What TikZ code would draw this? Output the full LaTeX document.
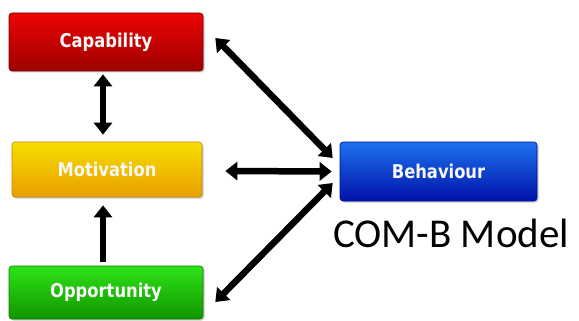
\documentclass[tikz,border=0pt]{standalone}
\usepackage{fontspec}
\usetikzlibrary{arrows.meta,calc,shadows}
\newfontfamily\boxfont[FakeStretch=0.86]{DejaVu Sans}
\newfontfamily\labelfont{Carlito}

\definecolor{redtop}{RGB}{236,4,4}
\definecolor{redbot}{RGB}{158,0,0}
\definecolor{yeltop}{RGB}{246,222,0}
\definecolor{yelbot}{RGB}{232,158,0}
\definecolor{grntop}{RGB}{44,228,22}
\definecolor{grnbot}{RGB}{18,148,0}
\definecolor{blutop}{RGB}{30,112,238}
\definecolor{blubot}{RGB}{0,18,168}

\tikzset{
  stage/.style={rectangle, rounded corners=3pt, inner sep=0pt,
    text=white!94!gray, font=\boxfont\bfseries\fontsize{19}{22}\selectfont,
    drop shadow={shadow xshift=1.5pt, shadow yshift=-1.5pt, opacity=0.35, fill=black!60}},
  tipshape/.tip={Triangle[width=18pt,length=12pt]},
  oneway/.style={line width=6.5pt, black, -tipshape},
  twoway/.style={line width=6.5pt, black, tipshape-tipshape},
}

\begin{document}
\begin{tikzpicture}[x=1pt, y=-1pt]
\useasboundingbox (0,0) rectangle (579,321);

% the four COM-B components
\node[stage, minimum width=194pt, minimum height=58pt,
      top color=redtop, bottom color=redbot, draw=redbot!80!black, line width=0.6pt]
      (cap) at (106,42) {Capability};
\node[stage, minimum width=190pt, minimum height=55pt,
      top color=yeltop, bottom color=yelbot, draw=yelbot!85!black, line width=0.6pt]
      (mot) at (107,169.5) {Motivation};
\node[stage, minimum width=194pt, minimum height=53pt,
      top color=grntop, bottom color=grnbot, draw=grnbot!85!black, line width=0.6pt]
      (opp) at (106,292.5) {Opportunity};
\node[stage, minimum width=197pt, minimum height=59pt,
      top color=blutop, bottom color=blubot, draw=blubot!85!black, line width=0.6pt]
      (beh) at (438.5,171.5) {Behaviour};

% model title
\node[anchor=base west, inner sep=0pt, font=\labelfont\fontsize{41}{48}\selectfont]
      (title) at (333,247) {COM-B Model};

% links between the components
\draw[twoway] ($(cap.south)+(-3,3)$) -- ($(mot.north)+(-4,-7)$);
\draw[oneway] ($(opp.north)+(-3,-4)$) -- ($(mot.south)+(-4,8)$);
\draw[twoway] ($(cap.east)+(12,-4)$) -- ($(beh.west)+(-7,-13.5)$);
\draw[twoway] ($(mot.east)+(23,1.5)$) -- ($(beh.west)+(-8,0)$);
\draw[twoway] ($(opp.east)+(12,9.5)$) -- ($(beh.west)+(-7,11.5)$);
\end{tikzpicture}
\end{document}
